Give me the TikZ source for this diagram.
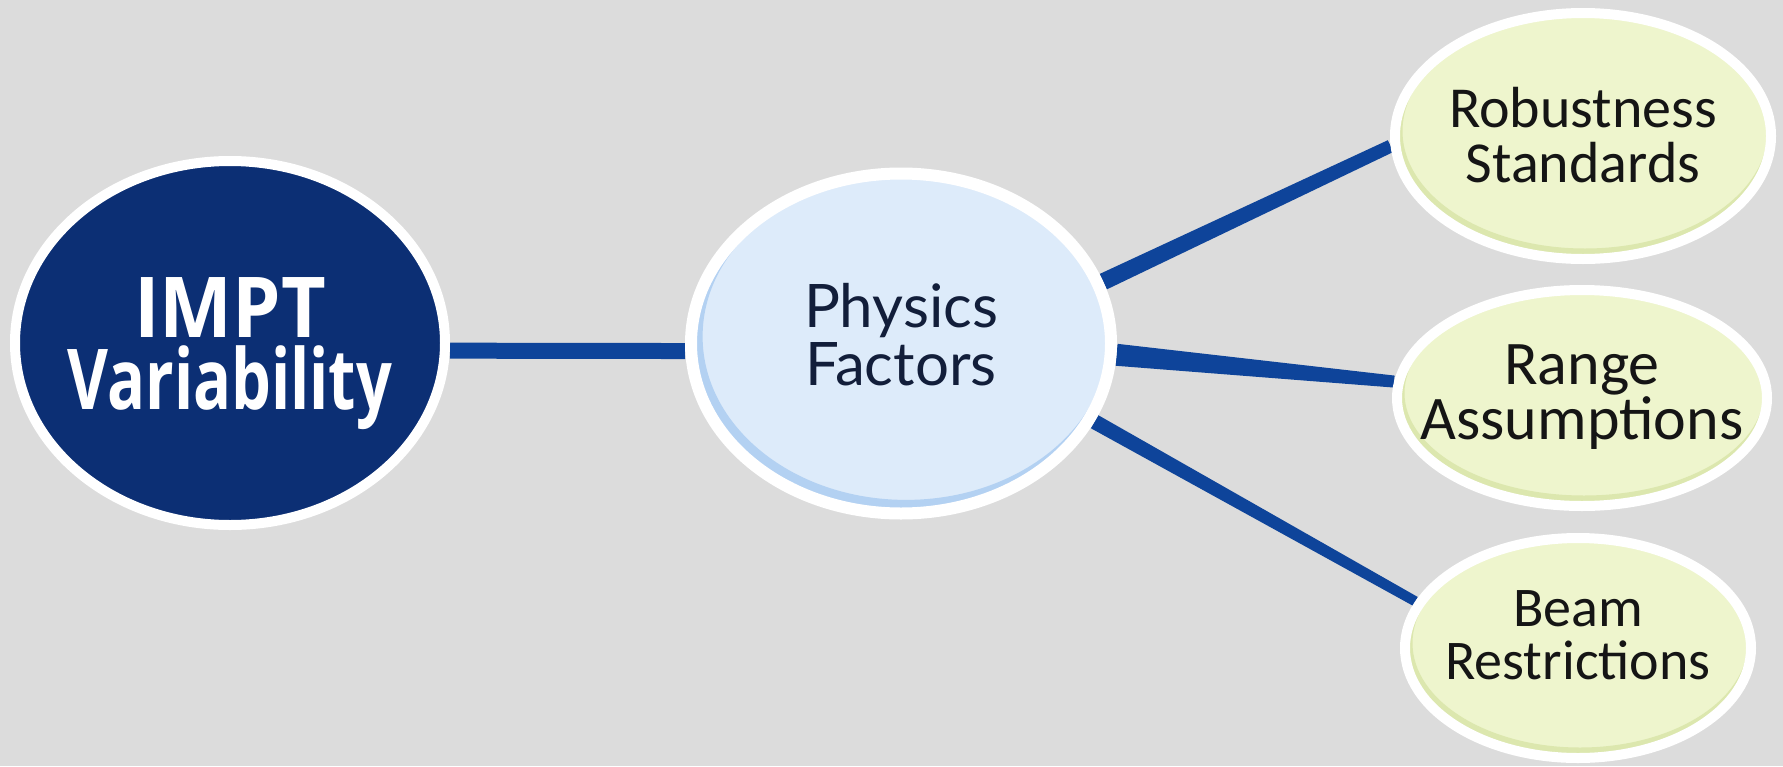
\documentclass[tikz,border=0pt]{standalone}
\usepackage{graphicx}
\usepackage{fontspec}
\setmainfont{Lato}
\newfontfamily\imptfont{Open Sans}
\newfontfamily\leaffont{Carlito}
\usetikzlibrary{shapes.geometric,calc,backgrounds}
\definecolor{bg}{HTML}{DCDCDC}
\definecolor{navy}{HTML}{0C2F74}
\definecolor{linkblue}{HTML}{0E449A}
\definecolor{pfmain}{HTML}{DDEBFA}
\definecolor{pfshade}{HTML}{B3D1F2}
\definecolor{pftext}{HTML}{121E3A}
\definecolor{lfmain}{HTML}{EEF5CD}
\definecolor{lfshade}{HTML}{DCE7AE}
\definecolor{lftext}{HTML}{151515}
% two centred lines, baseline = first line, fixed line distance
\newcommand\twoline[2]{\vtop{\lineskiplimit=-\maxdimen\halign{\hfil##\hfil\cr#1\cr#2\cr}}}
% tapered connector: from, to, half width at from, half width at to
\newcommand\taperlink[4]{%
  \fill[linkblue] ($(#1)!#3!90:(#2)$) -- ($(#2)!#4!-90:(#1)$)
    -- ($(#2)!#4!90:(#1)$) -- ($(#1)!#3!-90:(#2)$) -- cycle;}
\tikzset{
  bubble/.style={ellipse, draw=white, line width=10pt, inner sep=-90pt, text height=0pt},
  rootnode/.style={bubble, fill=navy, text=white,
    font=\imptfont\bfseries\fontsize{84}{72}\selectfont},
  midnode/.style={bubble, line width=12pt, fill=pfshade, text=pftext,
    font=\fontsize{60}{58}\selectfont},
  leafnode/.style={bubble, fill=lfshade, text=lftext,
    font=\leaffont\fontsize{58}{55}\selectfont},
}
\begin{document}
\begin{tikzpicture}[x=1pt,y=-1pt]
\useasboundingbox (0,0) rectangle (1783,766);
\node[rootnode, minimum width=430pt, minimum height=364pt, text depth=12pt] (impt) at (230,343)
  {\twoline{\scalebox{0.92}[1]{IMPT}}{\scalebox{0.75}[1]{Variability}}};
\node[midnode, minimum width=420pt, minimum height=340pt, text depth=33pt,
  path picture={\filldraw[fill=pfmain, draw=pfshade, line width=1.2pt]
    ([xshift=5pt,yshift=7pt]path picture bounding box.center)
    ellipse [x radius=204pt, y radius=164pt];}] (pf) at (901,343.5) {\twoline{Physics}{Factors}};
\node[leafnode, minimum width=376pt, minimum height=246pt, text depth=18pt,
  path picture={\filldraw[fill=lfmain, draw=lfshade, line width=1pt]
    ([xshift=2pt,yshift=5pt]path picture bounding box.center)
    ellipse [x radius=183pt, y radius=118pt];}] (rs) at (1583,136) {\twoline{Robustness}{Standards}};
\node[leafnode, minimum width=370pt, minimum height=216pt, text depth=28pt,
  font=\leaffont\fontsize{62}{55}\selectfont,
  path picture={\filldraw[fill=lfmain, draw=lfshade, line width=1pt]
    ([xshift=2pt,yshift=5pt]path picture bounding box.center)
    ellipse [x radius=180pt, y radius=103pt];}] (ra) at (1582,398) {\twoline{Range}{Assumptions}};
\node[leafnode, minimum width=346pt, minimum height=220pt, text depth=43pt,
  font=\leaffont\fontsize{56}{53}\selectfont,
  path picture={\filldraw[fill=lfmain, draw=lfshade, line width=1pt]
    ([xshift=2pt,yshift=5pt]path picture bounding box.center)
    ellipse [x radius=168pt, y radius=105pt];}] (br) at (1578,648) {\twoline{Beam}{Restrictions}};
\begin{scope}[on background layer]
  \fill[bg] (0,0) rectangle (1783,766);
  \taperlink{impt.-2}{pf.182}{8pt}{8pt}
  \taperlink{pf.17.3}{rs.183.5}{8.5pt}{6.5pt}
  \taperlink{pf.-3}{ra.175.1}{11pt}{6pt}
  \taperlink{pf.-22.8}{br.164.8}{7.5pt}{5pt}
\end{scope}
\end{tikzpicture}
\end{document}
